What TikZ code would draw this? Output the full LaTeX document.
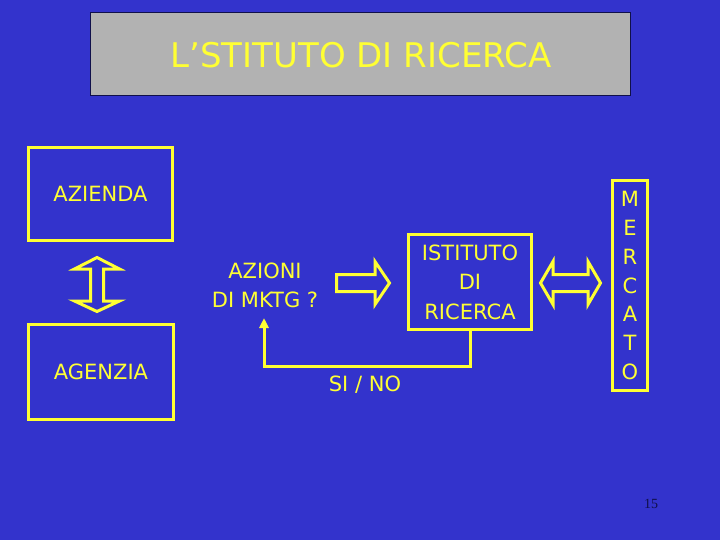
\documentclass[tikz,border=0pt]{standalone}
\usepackage{fontspec}
\setmainfont{DejaVu Sans}
\newfontfamily\pagefont{Liberation Serif}
\usetikzlibrary{arrows.meta}
\definecolor{slideblue}{HTML}{3333CC}
\definecolor{slideyellow}{HTML}{FFFF33}
\definecolor{titlegray}{HTML}{B2B2B2}
\definecolor{darknavy}{HTML}{10104A}
\begin{document}
\begin{tikzpicture}[x=1pt, y=-1pt,
  ytext/.style={text=slideyellow, font=\fontsize{21}{29.5}\selectfont, align=center, inner sep=0pt},
  ybox/.style={ytext, draw=slideyellow, line width=3pt},
  blockarrow/.style={draw=slideyellow, line width=3pt, line join=miter},
  fbline/.style={draw=slideyellow, line width=3pt, -{Triangle[width=9pt,length=10pt]}}]
  \useasboundingbox (0,0) rectangle (720,540);
  \fill[slideblue] (0,0) rectangle (720,540);
  % title
  \node[draw=darknavy, fill=titlegray, line width=1pt, minimum width=540pt, minimum height=83pt] (title) at (360.5,54) {};
  \node[text=slideyellow, font=\fontsize{34}{40}\selectfont] (titletext) at (361,55.5) {L’STITUTO DI RICERCA};
  % boxes
  \node[ybox, minimum width=144pt, minimum height=93pt] (azienda) at (100.5,194) {AZIENDA};
  \node[ybox, minimum width=145pt, minimum height=95pt] (agenzia) at (101,372) {AGENZIA};
  \node[ybox, minimum width=123pt, minimum height=95pt] (istituto) at (470,282) {ISTITUTO\\DI\\RICERCA};
  \node[ybox, minimum width=35pt, minimum height=210pt, font=\fontsize{21}{28.8}\selectfont] (mercato) at (630,285.5) {M\\E\\R\\C\\A\\T\\O};
  \node[ytext] (azioni) at (265,285.5) {AZIONI\\DI MKTG ?};
  \node[ytext] (sino) at (365,385) {SI / NO};
  \node[text=darknavy, font=\pagefont\fontsize{14}{16}\selectfont] (pagenum) at (651,504) {15};
  % block arrows
  \draw[blockarrow] (97,257.5) -- (119.5,269) -- (103.5,269) -- (103.5,301) -- (119.5,301)
    -- (97,311.5) -- (74.5,301) -- (90.5,301) -- (90.5,269) -- (74.5,269) -- cycle;
  \draw[blockarrow] (336.5,274.5) -- (375,274.5) -- (375,261.5) -- (389.5,283) -- (375,304.5)
    -- (375,291.5) -- (336.5,291.5) -- cycle;
  \draw[blockarrow] (540.5,283) -- (553,261.5) -- (553,274.5) -- (588,274.5) -- (588,261.5)
    -- (600.5,283) -- (588,304.5) -- (588,291.5) -- (553,291.5) -- (553,304.5) -- cycle;
  % feedback
  \coordinate (fbtip) at (264,318);
  \draw[fbline] (istituto.south) -- ++(0,35.5) -| (fbtip);
\end{tikzpicture}
\end{document}
